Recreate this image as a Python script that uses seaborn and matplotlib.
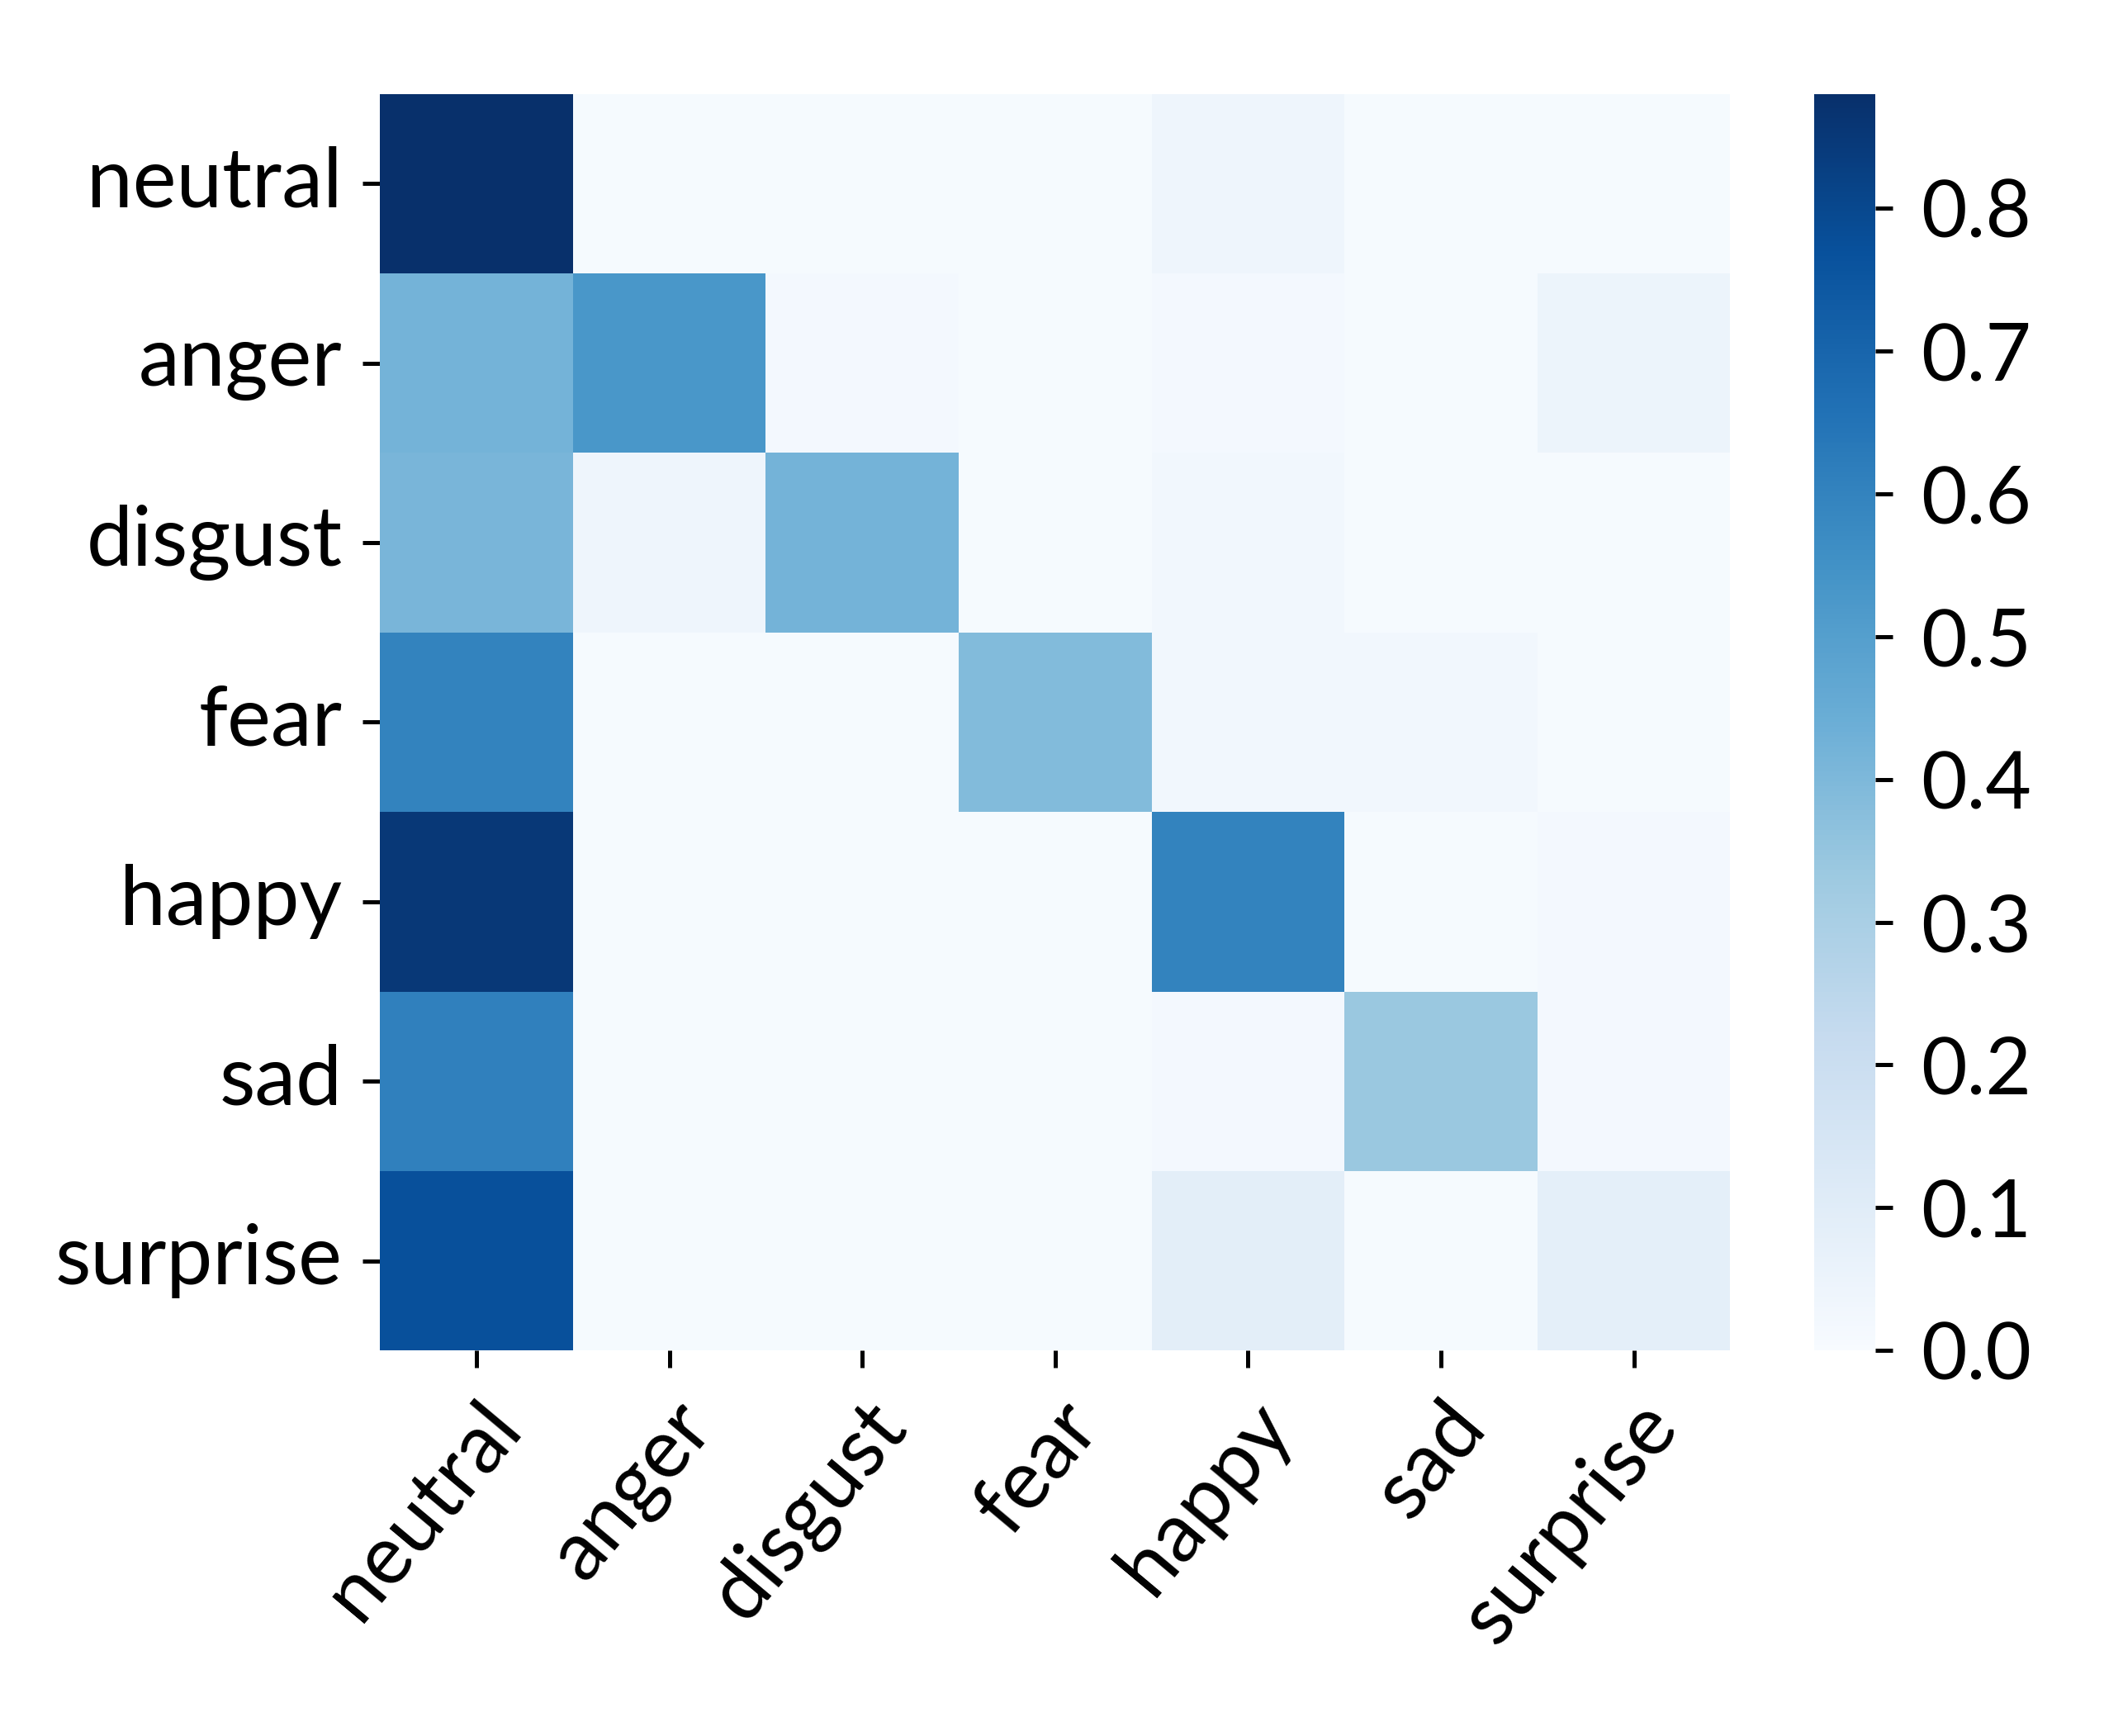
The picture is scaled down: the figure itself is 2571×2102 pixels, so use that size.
import numpy as np
import matplotlib
matplotlib.use("Agg")
import matplotlib.pyplot as plt
import seaborn as sns

# emotion classes (rows = true, cols = predicted)
labels = ["neutral", "anger", "disgust", "fear", "happy", "sad", "surprise"]

# normalised confusion matrix
row_neutral = [0.88, 0.01, 0.01, 0.01, 0.04, 0.01, 0.01]
row_anger = [0.42, 0.53, 0.02, 0.01, 0.02, 0.01, 0.05]
row_disgust = [0.41, 0.04, 0.42, 0.01, 0.03, 0.01, 0.01]
row_fear = [0.60, 0.01, 0.01, 0.39, 0.03, 0.03, 0.01]
row_happy = [0.85, 0.01, 0.01, 0.01, 0.60, 0.01, 0.02]
row_sad = [0.61, 0.01, 0.01, 0.01, 0.02, 0.34, 0.02]
row_surprise = [0.77, 0.01, 0.01, 0.01, 0.09, 0.01, 0.085]

cm = np.array([row_neutral, row_anger, row_disgust, row_fear,
               row_happy, row_sad, row_surprise])

sns.set_theme(style="white")
plt.rcParams['font.family'] = ['Lato', 'DejaVu Sans']
plt.rcParams['text.color'] = 'black'
plt.rcParams['xtick.color'] = 'black'
plt.rcParams['ytick.color'] = 'black'

fig = plt.figure(figsize=(2571 / 300, 2102 / 300), dpi=300)
ax = fig.add_axes([0.179, 0.222, 0.636, 0.724])
cax = fig.add_axes([0.8545, 0.222, 0.029, 0.724])

sns.heatmap(cm, ax=ax, cbar_ax=cax, cmap="Blues", vmin=0, vmax=0.88,
            xticklabels=labels, yticklabels=labels)

ax.tick_params(axis="both", which="both", length=5, width=1.2,
               color="black", labelcolor="black", labelsize=24,
               bottom=True, left=True, pad=6)
plt.setp(ax.get_xticklabels(), rotation=50, ha="right",
         rotation_mode="anchor")
plt.setp(ax.get_yticklabels(), rotation=0)

cax.set_yticks(np.arange(0, 0.81, 0.1))
cax.tick_params(axis="y", length=5, width=1.2, color="black",
                labelcolor="black", labelsize=23, right=True, pad=8)
cax.yaxis.set_major_formatter(matplotlib.ticker.FormatStrFormatter("%.1f"))

fig.savefig("out.png", dpi=300, facecolor="white")
